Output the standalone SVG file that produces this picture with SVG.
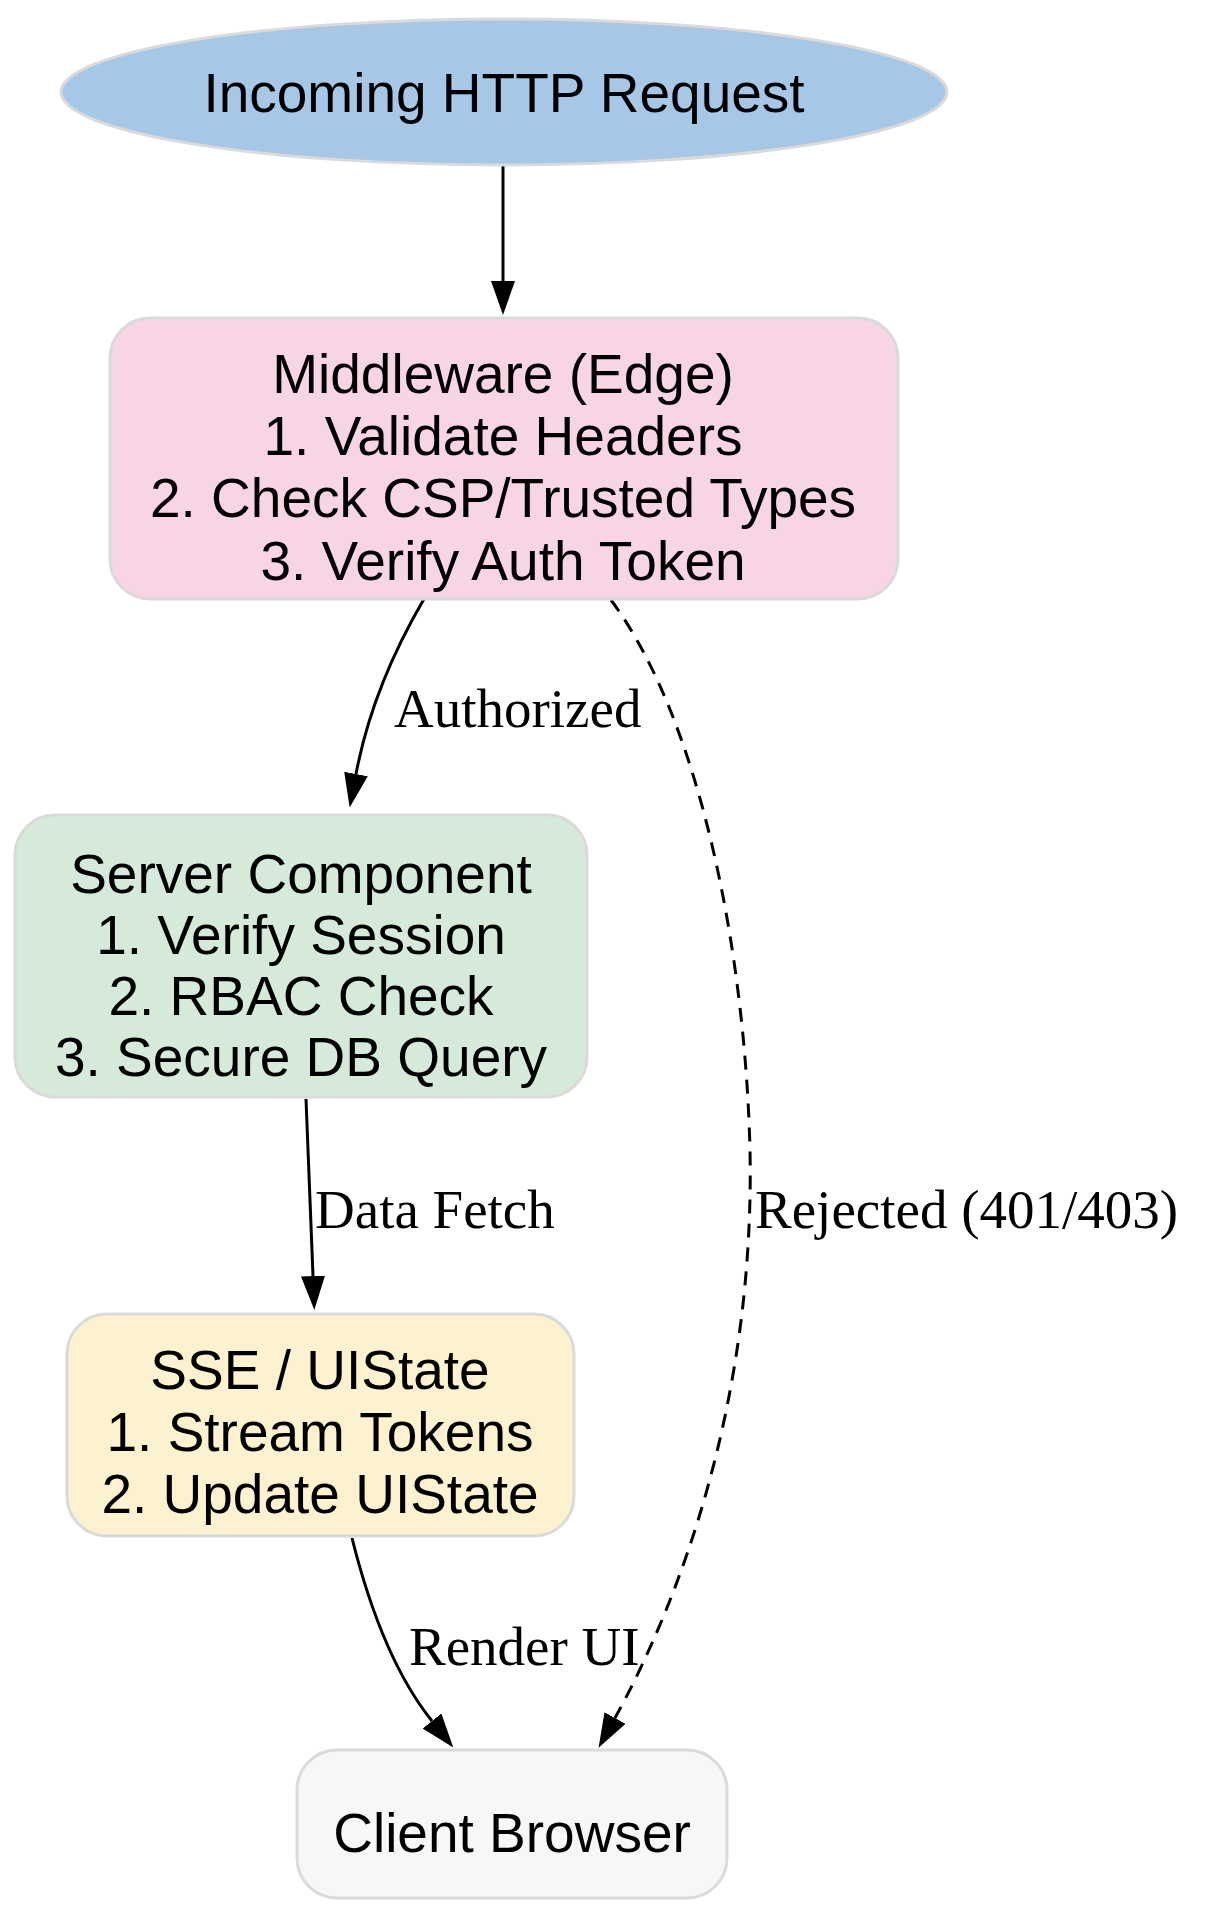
<svg xmlns="http://www.w3.org/2000/svg" width="1210" height="1931" viewBox="0 0 1210 1931">
<style>
.n{stroke:#dadada;stroke-width:3}
.t{font-family:"Liberation Sans",Arial,sans-serif;font-size:55px;fill:#000;text-anchor:middle}
.l{font-family:"Liberation Serif","Times New Roman",serif;font-size:55px;fill:#000}
.e{fill:none;stroke:#000;stroke-width:3}
</style>
<defs>
<marker id="ah" viewBox="0 0 34 24" refX="0" refY="12" markerWidth="34" markerHeight="24" markerUnits="userSpaceOnUse" orient="auto">
<path d="M0,0 L34,12 L0,24 z" fill="#000"/>
</marker>
</defs>
<rect width="1210" height="1931" fill="#fff"/>
<g id="edges">
<path class="e" d="M503,166 L503,281" marker-end="url(#ah)"/>
<path class="e" d="M424,599 C400,640 370,700 356,774" marker-end="url(#ah)"/>
<text class="l" x="394" y="727">Authorized</text>
<path class="e" d="M306,1099 L313,1276" marker-end="url(#ah)"/>
<text class="l" x="315" y="1228">Data Fetch</text>
<path class="e" d="M352,1538 C370,1610 395,1675 432,1721" marker-end="url(#ah)"/>
<text class="l" x="409" y="1665">Render UI</text>
<path class="e" stroke-dasharray="14,10" d="M611,600 C700,720 745,950 750,1150 C755,1400 680,1600 615,1718" marker-end="url(#ah)"/>
<text class="l" x="755" y="1228">Rejected (401/403)</text>
</g>
<g id="request">
<ellipse class="n" cx="504" cy="92" rx="443" ry="73" fill="#a6c8e6"/>
<text class="t" x="504" y="112">Incoming HTTP Request</text>
</g>
<g id="middleware">
<rect class="n" x="110" y="318" width="788" height="281" rx="40" fill="#f8d5e5"/>
<text class="t" x="503" y="393">Middleware (Edge)</text>
<text class="t" x="503" y="455">1. Validate Headers</text>
<text class="t" x="503" y="517">2. Check CSP/Trusted Types</text>
<text class="t" x="503" y="580">3. Verify Auth Token</text>
</g>
<g id="server">
<rect class="n" x="15" y="815" width="572" height="282" rx="40" fill="#d5ead9"/>
<text class="t" x="301" y="893">Server Component</text>
<text class="t" x="301" y="954">1. Verify Session</text>
<text class="t" x="301" y="1015">2. RBAC Check</text>
<text class="t" x="301" y="1076">3. Secure DB Query</text>
</g>
<g id="sse">
<rect class="n" x="67" y="1314" width="507" height="222" rx="40" fill="#fdf2cf"/>
<text class="t" x="320" y="1389">SSE / UIState</text>
<text class="t" x="320" y="1451">1. Stream Tokens</text>
<text class="t" x="320" y="1513">2. Update UIState</text>
</g>
<g id="client">
<rect class="n" x="297" y="1750" width="430" height="148" rx="40" fill="#f6f7f9"/>
<text class="t" x="512" y="1852">Client Browser</text>
</g>
</svg>
